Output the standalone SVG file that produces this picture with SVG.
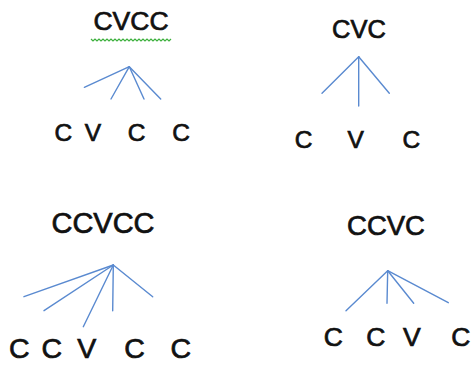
<svg xmlns="http://www.w3.org/2000/svg" width="472" height="365" viewBox="0 0 472 365">
<style>
text{font-family:"Liberation Sans",Arial,sans-serif;fill:#111;stroke:#111;stroke-width:0.7;text-anchor:middle}
.c line{stroke:#5a8ad0;stroke-width:1.4;stroke-linecap:round}
.sq{fill:none;stroke:#3db03d;stroke-width:1.2}
</style>
<rect width="472" height="365" fill="#fff"/>
<g id="t1-root"><text x="131" y="30" font-size="26.5">CVCC</text>
<polyline class="sq" points="91,39 93,41 95,39 97,41 99,39 101,41 103,39 105,41 107,39 109,41 111,39 113,41 115,39 117,41 119,39 121,41 123,39 125,41 127,39 129,41 131,39 133,41 135,39 137,41 139,39 141,41 143,39 145,41 147,39 149,41 151,39 153,41 155,39 157,41 159,39 161,41 163,39 165,41 167,39 169,41 171,39"/></g>
<g id="t1-c1"><text x="63.3" y="141" font-size="24.5">C</text></g>
<g id="t1-v"><text x="93" y="141" font-size="24.5">V</text></g>
<g id="t1-c2"><text x="136.7" y="141" font-size="24.5">C</text></g>
<g id="t1-c3"><text x="181" y="141" font-size="24.5">C</text></g>
<g id="t2-root"><text x="359" y="38.3" font-size="25.5">CVC</text></g>
<g id="t2-c1"><text x="303.7" y="148.3" font-size="24.5">C</text></g>
<g id="t2-v"><text x="355.7" y="148.3" font-size="24.5">V</text></g>
<g id="t2-c2"><text x="411.3" y="148.3" font-size="24.5">C</text></g>
<g id="t3-root"><text x="103" y="233.3" font-size="29">CCVCC</text></g>
<g id="t3-c1"><text x="19.2" y="358.3" font-size="28.5">C</text></g>
<g id="t3-c2"><text x="51.7" y="358.3" font-size="28.5">C</text></g>
<g id="t3-v"><text x="86.7" y="358.3" font-size="28.5">V</text></g>
<g id="t3-c3"><text x="134.5" y="358.3" font-size="28.5">C</text></g>
<g id="t3-c4"><text x="180.8" y="358.3" font-size="28.5">C</text></g>
<g id="t4-root"><text x="386" y="235" font-size="27.5">CCVC</text></g>
<g id="t4-c1"><text x="333.2" y="345.7" font-size="26.5">C</text></g>
<g id="t4-c2"><text x="375.7" y="345.7" font-size="26.5">C</text></g>
<g id="t4-v"><text x="411.8" y="345.7" font-size="26.5">V</text></g>
<g id="t4-c3"><text x="460.7" y="345.7" font-size="26.5">C</text></g>
<g id="connectors" class="c">
<line x1="129.3" y1="66.7" x2="84.3" y2="87.3"/>
<line x1="129.3" y1="66.7" x2="111" y2="99"/>
<line x1="129.3" y1="66.7" x2="144" y2="99"/>
<line x1="129.3" y1="66.7" x2="160.7" y2="99"/>
<line x1="358.7" y1="56.7" x2="322" y2="93.3"/>
<line x1="358.7" y1="56.7" x2="358.7" y2="106"/>
<line x1="358.7" y1="56.7" x2="389.3" y2="93.3"/>
<line x1="113.3" y1="265" x2="24" y2="296.7"/>
<line x1="113.3" y1="265" x2="44" y2="310.7"/>
<line x1="113.3" y1="265" x2="83.3" y2="326.7"/>
<line x1="113.3" y1="265" x2="112.7" y2="310.7"/>
<line x1="113.3" y1="265" x2="152.7" y2="296.7"/>
<line x1="387.7" y1="270.7" x2="346" y2="310.7"/>
<line x1="387.7" y1="270.7" x2="387" y2="303.3"/>
<line x1="387.7" y1="270.7" x2="413.7" y2="303.3"/>
<line x1="387.7" y1="270.7" x2="448.3" y2="302.7"/>
</g>
</svg>
